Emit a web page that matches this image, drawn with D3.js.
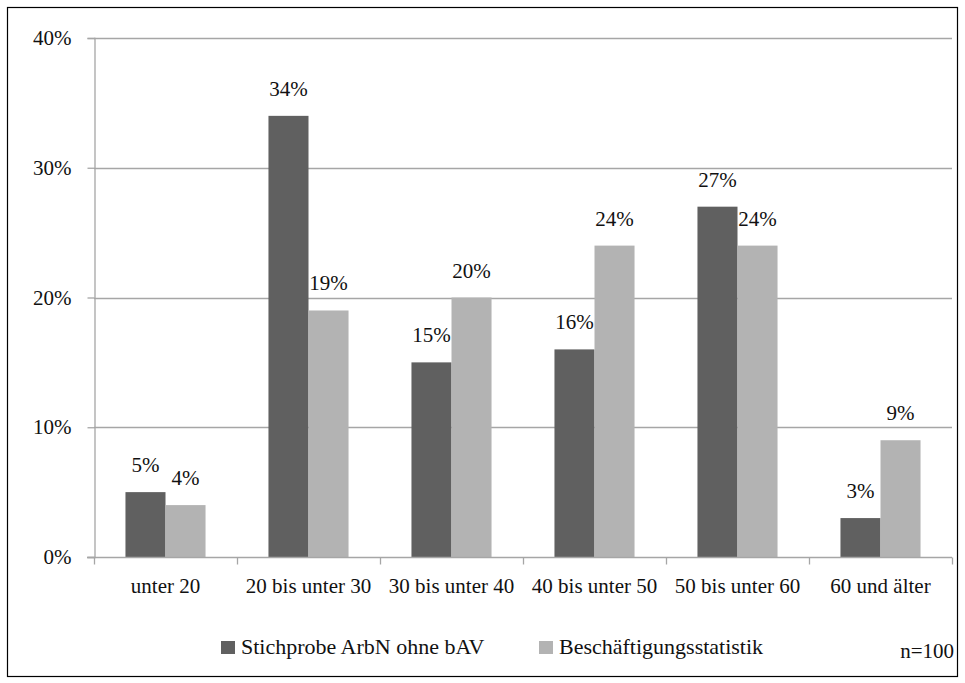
<!DOCTYPE html>
<html>
<head>
  <meta charset="utf-8" />
  <title>Altersgruppen</title>
  <script src="https://cdn.jsdelivr.net/npm/d3@7"></script>
  <style>
    body { margin: 0; background: #fff; }
  </style>
</head>
<body>
<div id="vis"></div>
<script>
var kategorien = ["unter 20", "20 bis unter 30", "30 bis unter 40", "40 bis unter 50", "50 bis unter 60", "60 und älter"];
var stichprobe = [5, 34, 15, 16, 27, 3];
var statistik = [4, 19, 20, 24, 24, 9];
var serien = ["Stichprobe ArbN ohne bAV", "Beschäftigungsstatistik"];
var yTicks = [0, 10, 20, 30, 40];

var w = 965, h = 683;
var farben = ["#606060", "#b3b3b3"];
var schrift = "Liberation Serif";
var links = 94, rechts = 952, oben = 38, unten = 557;

var svg = d3.select("#vis").append("svg")
  .attr("width", w).attr("height", h);

svg.append("rect")
  .attr("x", 7.5).attr("y", 7.5)
  .attr("width", 950).attr("height", 669)
  .attr("fill", "white").attr("stroke", "#000").attr("stroke-width", 1.2);

var x = d3.scaleBand().domain(kategorien).range([links, rechts]).paddingInner(0.44).paddingOuter(0.22);
var x1 = d3.scaleBand().domain([0, 1]).range([0, x.bandwidth()]);
var y = d3.scaleLinear().domain([0, 40]).range([unten, oben]);

// gitter
svg.selectAll("line.grid").data(yTicks.slice(1)).enter().append("line")
  .attr("x1", links).attr("x2", rechts)
  .attr("y1", function(d) { return Math.round(y(d)) + 0.5; })
  .attr("y2", function(d) { return Math.round(y(d)) + 0.5; })
  .attr("stroke", "#a6a6a6").attr("stroke-width", 1.3);

// y achse
var yAxis = d3.axisLeft(y).tickValues(yTicks).tickSize(7).tickPadding(16)
  .tickFormat(function(d) { return d + "%"; });
var gy = svg.append("g").attr("transform", "translate(" + (links + 0.5) + ",0)").call(yAxis);
gy.select(".domain").attr("stroke", "#a6a6a6").attr("stroke-width", 1.3);
gy.selectAll(".tick line").attr("stroke", "#a6a6a6").attr("stroke-width", 1.3);

// balken
var daten = [];
kategorien.forEach(function(k, i) {
  daten.push({ k: k, s: 0, v: stichprobe[i] });
  daten.push({ k: k, s: 1, v: statistik[i] });
});

svg.selectAll("rect.bar").data(daten).enter().append("rect")
  .attr("x", function(d) { return x(d.k) + x1(d.s); })
  .attr("y", function(d) { return y(d.v); })
  .attr("width", x1.bandwidth())
  .attr("height", function(d) { return y(0) - y(d.v); })
  .attr("fill", function(d) { return farben[d.s]; });

svg.selectAll("text.wert").data(daten).enter().append("text")
  .attr("class", "wert")
  .attr("x", function(d) { return x(d.k) + x1(d.s) + x1.bandwidth() / 2; })
  .attr("y", function(d) { return y(d.v) - 20; })
  .attr("text-anchor", "middle")
  .text(function(d) { return d.v + "%"; });

// x achse
var gx = svg.append("g").attr("transform", "translate(0," + (unten + 0.5) + ")");
gx.append("line").attr("x1", links - 7).attr("x2", rechts)
  .attr("stroke", "#a6a6a6").attr("stroke-width", 1.3);
var grenzen = kategorien.map(function(k) { return x(k) - x.step() * x.paddingInner() / 2; });
grenzen.push(rechts);
gx.selectAll("line.tick").data(grenzen).enter().append("line")
  .attr("x1", function(d) { return Math.round(d) + 0.5; })
  .attr("x2", function(d) { return Math.round(d) + 0.5; })
  .attr("y1", 0).attr("y2", 7)
  .attr("stroke", "#a6a6a6").attr("stroke-width", 1.3);
gx.selectAll("text").data(kategorien).enter().append("text")
  .attr("x", function(k) { return x(k) + x.bandwidth() / 2; })
  .attr("y", 35.5)
  .attr("text-anchor", "middle")
  .text(function(k) { return k; });

// schrift direkt an jedem text
svg.selectAll("text")
  .attr("font-family", schrift)
  .attr("font-size", 21)
  .attr("fill", "#111");

// legende
var legX = [221, 539];
var leg = svg.selectAll("g.leg").data(serien).enter().append("g")
  .attr("transform", function(d, i) { return "translate(" + legX[i] + ",641)"; });
leg.append("rect").attr("width", 14).attr("height", 13)
  .attr("fill", function(d, i) { return farben[i]; });
leg.append("text").attr("x", 20).attr("y", 13)
  .attr("font-family", schrift).attr("font-size", 22).attr("fill", "#111")
  .text(function(d) { return d; });

svg.append("text").attr("x", 954).attr("y", 658).attr("text-anchor", "end")
  .attr("font-family", schrift).attr("font-size", 21).attr("fill", "#111")
  .text("n=100");
</script>
</body>
</html>
